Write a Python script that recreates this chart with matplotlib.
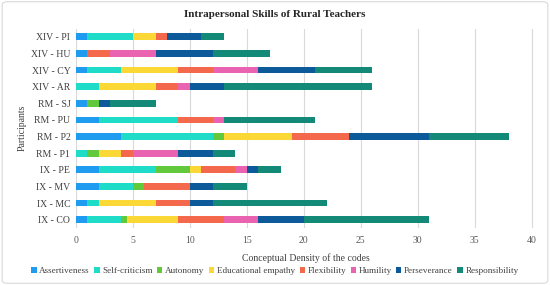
import matplotlib
matplotlib.use("Agg")
import matplotlib.pyplot as plt
from matplotlib.patches import FancyBboxPatch
import numpy as np

participants = ["XIV - PI", "XIV - HU", "XIV - CY", "XIV - AR", "RM - SJ", "RM - PU",
                "RM - P2", "RM - P1", "IX - PE", "IX - MV", "IX - MC", "IX - CO"]
series = ["Assertiveness", "Self-criticism", "Autonomy", "Educational empathy",
          "Flexibility", "Humility", "Perseverance", "Responsibility"]

assertiveness       = [1, 1, 1, 0, 1, 2, 4, 0, 2, 2, 1, 1]
self_criticism      = [4, 0, 3, 2, 0, 7, 8, 1, 5, 3, 1, 3]
autonomy            = [0, 0, 0, 0, 1, 0, 1, 1, 3, 1, 0, 0.5]
educational_empathy = [2, 0, 5, 5, 0, 0, 6, 2, 1, 0, 5, 4.5]
flexibility         = [1, 2, 3, 2, 0, 3, 5, 1, 3, 4, 3, 4]
humility            = [0, 4, 4, 1, 0, 1, 0, 4, 1, 0, 0, 3]
perseverance        = [3, 5, 5, 3, 1, 0, 7, 3, 1, 2, 2, 4]
responsibility      = [2, 5, 5, 13, 4, 8, 7, 2, 2, 3, 10, 11]

values = [assertiveness, self_criticism, autonomy, educational_empathy,
          flexibility, humility, perseverance, responsibility]
colors = ["#1f9cf0", "#1fdcc8", "#62c83c", "#fcd836", "#f4694c", "#e963b0", "#0d5a9b", "#138a78"]

plt.rcParams['font.family'] = ['Liberation Serif', 'DejaVu Serif']

fig = plt.figure(figsize=(5.5, 2.85), dpi=100)
ax = fig.add_axes([0.138, 0.20, 0.835, 0.70])

y = np.arange(len(participants))
left = np.zeros(len(participants))
for name, vals, c in zip(series, values, colors):
    vals = np.array(vals, dtype=float)
    ax.barh(y, vals, left=left, height=0.4, color=c, label=name, zorder=3)
    left += vals

ax.set_ylim(len(participants) - 0.5, -0.5)
ax.set_xlim(0, 40.3)
ax.set_xticks(np.arange(0, 41, 5))
ax.set_yticks(y)
ax.set_yticklabels(participants, fontsize=7, color="#404040")
ax.tick_params(axis='x', labelsize=7, colors="#595959", length=0, pad=6)
ax.tick_params(axis='y', length=0, pad=4)
ax.grid(axis='x', color="#d9d9d9", linewidth=0.8, zorder=0)
for s in ax.spines.values():
    s.set_visible(False)

ax.set_xlabel("Conceptual Density of the codes", fontsize=7, color="#404040", labelpad=6)
ax.set_ylabel("Participants", fontsize=7, color="#404040", labelpad=3)
fig.text(0.5, 0.948, "Intrapersonal Skills of Rural Teachers", ha='center', va='center',
         fontsize=8, fontweight='bold', color="#262626")

leg = fig.legend(loc='center', bbox_to_anchor=(0.5, 0.048), ncol=8, fontsize=6.6,
                 frameon=False, handlelength=0.55, handleheight=0.55, handletextpad=0.3,
                 columnspacing=0.5, borderpad=0)
for t in leg.get_texts():
    t.set_color("#404040")

border = FancyBboxPatch((0.004, 0.006), 0.992, 0.988, boxstyle="round,pad=0,rounding_size=0.01",
                        transform=fig.transFigure, fill=False, edgecolor="#d9d9d9", linewidth=0.8)
fig.patches.append(border)

fig.savefig("out.png", dpi=100)
